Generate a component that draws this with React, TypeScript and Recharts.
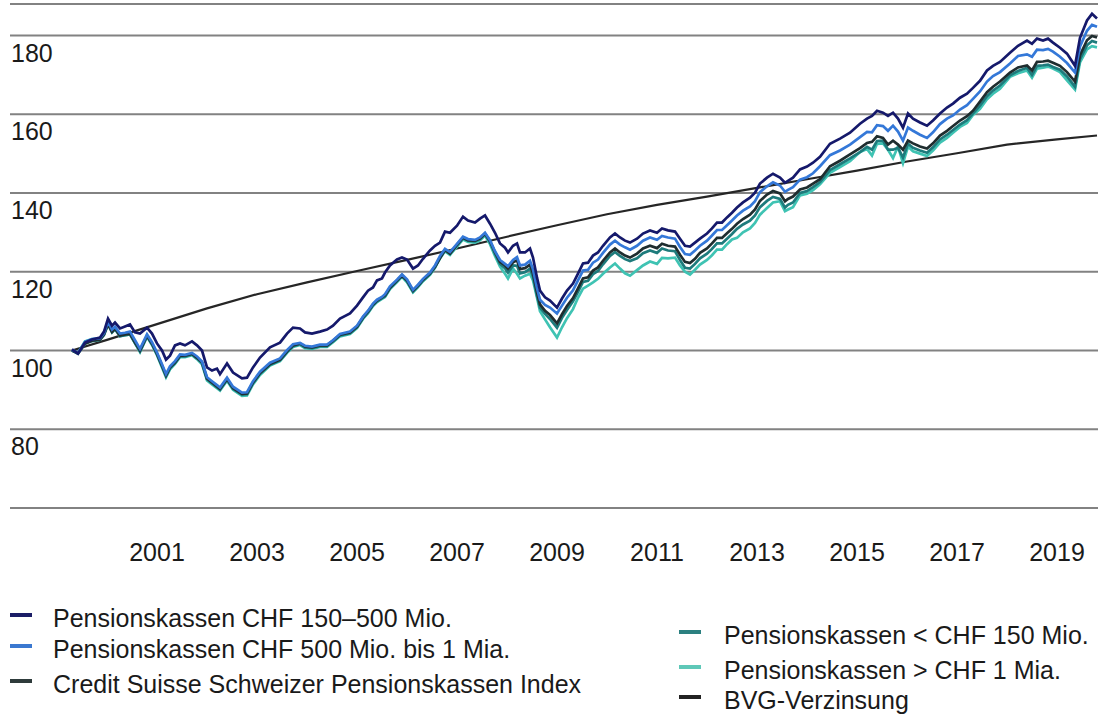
import { LineChart, Line, XAxis, YAxis, CartesianGrid } from "recharts";

// sample dates (decimal years)
const years = [
  1999.3, 1999.42, 1999.56, 1999.7, 1999.86, 1999.94, 2000.02, 2000.1, 2000.16, 2000.26,
  2000.36, 2000.46, 2000.56, 2000.66, 2000.8, 2000.9, 2001.0, 2001.1, 2001.18, 2001.26,
  2001.36, 2001.46, 2001.56, 2001.7, 2001.8, 2001.9, 2002.0, 2002.1, 2002.2, 2002.26,
  2002.4, 2002.52, 2002.7, 2002.8, 2002.92, 2003.06, 2003.26, 2003.46, 2003.6, 2003.72,
  2003.86, 2003.96, 2004.1, 2004.26, 2004.4, 2004.52, 2004.66, 2004.86, 2005.0, 2005.12,
  2005.22, 2005.32, 2005.4, 2005.5, 2005.56, 2005.66, 2005.8, 2005.9, 2006.0, 2006.12,
  2006.22, 2006.32, 2006.46, 2006.56, 2006.66, 2006.76, 2006.86, 2007.0, 2007.12, 2007.22,
  2007.36, 2007.46, 2007.56, 2007.66, 2007.76, 2007.86, 2007.96, 2008.02, 2008.12, 2008.2,
  2008.26, 2008.36, 2008.46, 2008.52, 2008.6, 2008.66, 2008.76, 2008.86, 2009.0, 2009.1,
  2009.2, 2009.32, 2009.42, 2009.52, 2009.62, 2009.72, 2009.82, 2009.92, 2010.06, 2010.16,
  2010.26, 2010.36, 2010.46, 2010.6, 2010.72, 2010.86, 2011.0, 2011.1, 2011.22, 2011.36,
  2011.46, 2011.56, 2011.66, 2011.76, 2011.86, 2012.0, 2012.1, 2012.2, 2012.3, 2012.4,
  2012.5, 2012.6, 2012.72, 2012.86, 2012.96, 2013.06, 2013.2, 2013.32, 2013.46, 2013.56,
  2013.62, 2013.72, 2013.86, 2014.0, 2014.12, 2014.26, 2014.46, 2014.66, 2014.86, 2015.06,
  2015.2, 2015.3, 2015.4, 2015.52, 2015.62, 2015.72, 2015.82, 2015.92, 2016.02, 2016.12,
  2016.26, 2016.4, 2016.52, 2016.66, 2016.8, 2016.92, 2017.06, 2017.2, 2017.32, 2017.46,
  2017.6, 2017.72, 2017.86, 2018.06, 2018.22, 2018.4, 2018.5, 2018.6, 2018.72, 2018.82,
  2018.92, 2019.06, 2019.2, 2019.36, 2019.46, 2019.6, 2019.7, 2019.8,
];

// Pensionskassen CHF 150–500 Mio.
const pk150to500 = [
  100.3, 99.2, 102.0, 102.8, 103.3, 104.8, 108.1, 106.3, 107.1, 105.6,
  106.1, 106.6, 104.6, 104.3, 105.8, 104.3, 101.8, 100.0, 97.7, 98.7,
  101.3, 101.8, 101.3, 102.3, 101.3, 100.0, 95.7, 94.9, 95.4, 94.0,
  96.7, 94.4, 92.9, 93.1, 95.7, 98.2, 100.8, 102.0, 104.3, 105.8,
  105.6, 104.6, 104.3, 104.8, 105.3, 106.3, 108.1, 109.4, 111.4, 113.5,
  115.2, 116.0, 117.8, 118.3, 119.8, 121.6, 123.1, 123.6, 123.1, 120.8,
  121.6, 123.3, 125.4, 126.6, 127.4, 130.2, 129.9, 131.7, 134.0, 133.0,
  132.5, 133.5, 134.3, 132.2, 129.9, 127.2, 126.1, 124.9, 126.6, 127.2,
  124.9, 124.9, 125.9, 123.6, 118.5, 115.2, 113.5, 112.7, 110.9, 113.2,
  115.2, 117.0, 119.5, 122.1, 122.3, 124.1, 124.9, 126.6, 128.7, 129.7,
  128.7, 127.9, 127.4, 128.4, 129.7, 130.5, 129.9, 131.0, 130.5, 130.2,
  128.4, 126.6, 126.4, 127.4, 128.4, 129.7, 131.0, 132.5, 132.5, 133.8,
  135.0, 136.3, 137.6, 138.8, 140.1, 142.4, 143.9, 144.9, 143.9, 142.6,
  143.1, 143.9, 146.0, 146.7, 147.7, 149.2, 152.5, 153.8, 155.3, 157.6,
  158.9, 159.6, 160.9, 160.4, 159.6, 160.4, 158.9, 156.6, 160.2, 158.9,
  157.9, 157.1, 158.4, 160.2, 161.7, 162.7, 164.2, 165.2, 166.7, 168.5,
  171.1, 172.3, 173.3, 175.6, 177.4, 178.7, 177.9, 179.2, 178.7, 179.2,
  178.2, 176.9, 175.4, 172.3, 179.4, 183.8, 185.5, 184.3,
];

// Pensionskassen CHF 500 Mio. bis 1 Mia.
const pk500to1000 = [
  100.2, 99.4, 102.2, 102.9, 103.1, 104.4, 107.3, 105.3, 106.0, 104.3,
  104.5, 104.8, 102.6, 100.4, 104.1, 102.1, 99.5, 96.5, 94.0, 96.0,
  97.3, 99.0, 98.9, 99.4, 98.5, 97.2, 93.2, 92.2, 91.2, 90.6,
  93.1, 90.8, 89.3, 89.4, 92.2, 94.6, 96.9, 98.0, 100.1, 101.6,
  101.9, 101.2, 101.0, 101.5, 101.5, 102.6, 104.2, 104.8, 106.3, 108.6,
  110.1, 111.9, 112.9, 113.6, 114.3, 116.3, 118.0, 119.3, 118.1, 115.4,
  116.7, 118.2, 119.8, 121.6, 124.0, 125.8, 125.0, 127.1, 128.9, 128.3,
  128.1, 128.7, 129.9, 128.0, 125.2, 123.0, 122.0, 121.4, 123.0, 123.7,
  121.6, 121.8, 122.8, 120.6, 115.8, 112.9, 111.6, 110.9, 109.4, 111.4,
  113.4, 115.3, 117.8, 120.3, 120.5, 122.3, 123.1, 124.8, 126.9, 127.9,
  126.9, 126.2, 125.6, 126.6, 127.9, 128.7, 128.1, 129.1, 128.7, 128.4,
  126.3, 124.5, 124.3, 125.4, 126.6, 127.9, 129.2, 130.6, 130.6, 131.8,
  133.0, 134.3, 135.5, 136.6, 137.9, 140.2, 141.7, 142.7, 141.9, 140.3,
  140.8, 141.5, 143.4, 144.0, 145.0, 146.8, 149.6, 150.8, 152.3, 154.2,
  155.5, 155.4, 157.2, 157.0, 155.8, 157.1, 155.6, 153.3, 156.6, 155.8,
  154.8, 154.0, 155.4, 157.5, 158.9, 159.7, 161.2, 162.3, 163.9, 165.8,
  168.3, 169.7, 170.7, 172.9, 174.8, 175.2, 174.6, 176.4, 176.3, 176.6,
  175.9, 174.6, 173.0, 170.6, 177.2, 181.2, 182.7, 182.2,
];

// Credit Suisse Schweizer Pensionskassen Index
const csIndex = [
  100.0, 99.3, 101.8, 102.5, 102.8, 104.1, 106.8, 104.8, 105.6, 103.8,
  104.1, 104.3, 102.1, 100.0, 103.8, 101.8, 99.2, 96.2, 93.7, 95.7,
  97.0, 98.7, 98.7, 99.2, 98.2, 97.0, 92.9, 91.9, 90.9, 90.3,
  92.8, 90.5, 89.0, 89.1, 91.9, 94.3, 96.6, 97.7, 99.8, 101.3,
  101.8, 101.0, 100.8, 101.3, 101.3, 102.5, 104.0, 104.6, 106.1, 108.4,
  109.9, 111.7, 112.7, 113.5, 114.0, 116.0, 117.8, 119.1, 117.8, 115.2,
  116.5, 118.0, 119.6, 121.3, 123.5, 125.6, 124.6, 126.9, 128.7, 128.0,
  127.9, 128.5, 129.7, 127.8, 125.0, 122.5, 121.6, 120.8, 122.4, 122.9,
  120.7, 120.9, 121.8, 119.6, 114.8, 111.7, 110.1, 109.0, 106.9, 109.2,
  111.3, 113.3, 115.8, 118.3, 118.6, 120.3, 121.1, 122.8, 124.9, 125.9,
  124.9, 124.1, 123.6, 124.6, 125.9, 126.6, 126.0, 127.1, 126.6, 126.4,
  124.3, 122.5, 122.2, 123.3, 124.8, 125.9, 127.2, 128.6, 128.6, 129.8,
  130.9, 132.2, 133.4, 134.5, 135.8, 138.0, 139.6, 140.5, 139.9, 137.9,
  138.5, 139.1, 140.9, 141.4, 142.4, 143.5, 146.8, 148.2, 149.8, 151.4,
  152.7, 153.0, 154.4, 154.0, 152.3, 153.3, 152.3, 151.0, 153.3, 152.6,
  151.8, 151.3, 152.6, 154.6, 155.8, 157.0, 158.4, 159.5, 160.9, 163.2,
  165.6, 167.0, 168.3, 170.6, 171.9, 172.4, 171.1, 173.3, 173.4, 173.6,
  173.1, 172.3, 170.7, 168.3, 175.0, 178.8, 179.9, 179.5,
];

// Pensionskassen < CHF 150 Mio.
const pkUnder150 = [
  100.0, 99.2, 101.7, 102.4, 102.7, 103.9, 106.6, 104.6, 105.4, 103.6,
  103.9, 104.1, 101.9, 99.8, 103.6, 101.6, 99.0, 96.0, 93.5, 95.5,
  96.8, 98.5, 98.5, 99.0, 98.0, 96.8, 92.7, 91.7, 90.7, 90.1,
  92.6, 90.3, 88.8, 88.9, 91.7, 94.1, 96.4, 97.5, 99.6, 101.1,
  101.6, 100.8, 100.6, 101.1, 101.1, 102.3, 103.8, 104.4, 105.9, 108.2,
  109.7, 111.5, 112.5, 113.3, 113.8, 115.8, 117.6, 118.9, 117.6, 115.0,
  116.3, 117.8, 119.4, 121.2, 123.6, 125.4, 124.6, 126.7, 128.5, 127.9,
  127.7, 128.3, 129.5, 127.5, 124.6, 122.0, 120.9, 119.8, 121.6, 121.5,
  119.6, 119.9, 120.8, 118.8, 113.9, 110.9, 109.3, 108.0, 105.8, 108.3,
  110.3, 112.5, 114.9, 117.4, 117.7, 119.4, 120.2, 121.9, 124.0, 125.0,
  124.0, 123.2, 122.7, 123.4, 124.7, 125.4, 124.8, 125.9, 125.4, 125.2,
  123.0, 121.0, 120.8, 122.0, 123.4, 124.6, 125.8, 127.2, 127.2, 128.4,
  129.6, 130.9, 132.0, 133.0, 134.3, 136.4, 138.0, 139.0, 138.5, 136.3,
  137.0, 137.6, 140.0, 140.5, 141.5, 142.8, 145.8, 147.3, 148.8, 150.4,
  151.7, 151.0, 153.2, 153.3, 151.0, 151.0, 151.5, 149.0, 152.5, 151.5,
  150.8, 150.2, 151.6, 153.6, 154.8, 156.0, 157.4, 158.5, 160.2, 162.2,
  164.6, 166.0, 167.3, 169.9, 171.0, 171.8, 170.0, 172.3, 172.4, 172.6,
  172.0, 171.3, 169.6, 167.0, 174.0, 177.5, 178.6, 178.2,
];

// Pensionskassen > CHF 1 Mia.
const pkOver1000 = [
  100.1, 99.4, 102.3, 102.9, 102.9, 104.2, 106.9, 104.7, 105.5, 103.7,
  103.9, 104.1, 101.8, 99.6, 103.5, 101.4, 98.8, 95.7, 93.2, 95.2,
  96.6, 98.3, 98.3, 98.8, 97.8, 96.5, 92.4, 91.4, 90.4, 89.8,
  92.3, 90.0, 88.5, 88.6, 91.4, 93.8, 96.2, 97.3, 99.4, 100.9,
  101.4, 100.6, 100.4, 100.9, 100.9, 102.1, 103.6, 104.2, 105.7, 108.0,
  109.5, 111.3, 112.3, 113.1, 113.6, 115.6, 117.4, 118.7, 117.3, 114.8,
  116.1, 117.6, 119.2, 121.0, 123.4, 125.2, 124.3, 126.4, 128.2, 127.6,
  127.4, 128.0, 129.2, 127.0, 124.0, 121.3, 119.5, 118.3, 120.8, 119.5,
  118.3, 119.0, 119.5, 117.8, 113.4, 110.0, 107.9, 105.9, 103.3, 105.9,
  108.2, 110.5, 113.4, 115.7, 116.5, 117.3, 118.2, 119.5, 121.1, 122.1,
  120.8, 119.6, 119.0, 120.4, 121.6, 122.6, 122.0, 123.5, 123.4, 123.6,
  121.6, 120.0, 119.3, 120.5, 121.8, 123.0, 124.2, 125.6, 125.6, 127.0,
  128.2, 128.6, 130.0, 131.0, 132.4, 134.5, 136.2, 137.6, 137.9, 135.4,
  135.8, 136.4, 139.4, 139.8, 140.7, 142.2, 145.1, 146.6, 148.1, 150.4,
  151.2, 149.5, 152.5, 152.6, 151.0, 148.9, 151.8, 147.6, 151.8, 150.6,
  150.0, 149.4, 150.8, 152.8, 154.0, 155.3, 156.8, 157.8, 159.8, 161.4,
  163.8, 165.2, 166.5, 169.5, 170.4, 171.1, 169.3, 171.6, 171.8, 172.1,
  171.6, 170.7, 168.6, 166.3, 173.2, 176.5, 177.3, 177.0,
];

// BVG-Verzinsung (smooth, read at year marks)
const bvgYears = [
  1999.3, 2000, 2001, 2002, 2003, 2004, 2005, 2006, 2007, 2008, 2009,
  2010, 2011, 2012, 2013, 2014, 2015, 2016, 2017, 2018, 2019, 2019.8,
];
const bvgValues = [
  100.0, 102.7, 106.7, 110.7, 114.3, 117.3, 120.2, 123.0, 125.9, 128.9, 131.8,
  134.6, 137.0, 139.1, 141.3, 143.5, 145.7, 148.0, 150.1, 152.3, 153.6, 154.6,
];

const yearTicks = [2001, 2003, 2005, 2007, 2009, 2011, 2013, 2015, 2017, 2019];
const valueTicks = [60, 80, 100, 120, 140, 160, 180];

const FONT = '"Liberation Sans", Arial, Helvetica, sans-serif';
const TEXT = "#1a1a1a";

const series = [
  { key: "over1000", name: "Pensionskassen > CHF 1 Mia.", color: "#3fc3b3" },
  { key: "under150", name: "Pensionskassen < CHF 150 Mio.", color: "#1e7b7c" },
  { key: "cs", name: "Credit Suisse Schweizer Pensionskassen Index", color: "#1f2d2f" },
  { key: "p500", name: "Pensionskassen CHF 500 Mio. bis 1 Mia.", color: "#3478d8" },
  { key: "p150", name: "Pensionskassen CHF 150–500 Mio.", color: "#15196b" },
];

const fundRows = years.map((t, i) => ({
  t,
  p150: pk150to500[i],
  p500: pk500to1000[i],
  cs: csIndex[i],
  under150: pkUnder150[i],
  over1000: pkOver1000[i],
}));
const bvgRows = bvgYears.map((t, i) => ({ t, bvg: bvgValues[i] }));
const rows: any[] = [...fundRows, ...bvgRows].sort((a, b) => a.t - b.t);

const renderYTick = (props: any) => {
  const { y, payload, index } = props;
  if (payload.value === 60) return <g key={`yt-${index}`} />;
  return (
    <text key={`yt-${index}`} x={11} y={y + 26} fontSize={25} fill={TEXT} fontFamily={FONT}>
      {payload.value}
    </text>
  );
};

const renderXTick = (props: any) => {
  const { x, y, payload, index } = props;
  return (
    <text
      key={`xt-${index}`}
      x={x}
      y={y + 51}
      fontSize={25}
      fill={TEXT}
      fontFamily={FONT}
      textAnchor="middle"
    >
      {payload.value}
    </text>
  );
};

const legendLeft = [
  { name: "Pensionskassen CHF 150–500 Mio.", color: "#1b1d66", y: 618 },
  { name: "Pensionskassen CHF 500 Mio. bis 1 Mia.", color: "#3a78d0", y: 649 },
  { name: "Credit Suisse Schweizer Pensionskassen Index", color: "#2e3b3b", y: 684 },
];
const legendRight = [
  { name: "Pensionskassen < CHF 150 Mio.", color: "#2b8080", y: 635 },
  { name: "Pensionskassen > CHF 1 Mia.", color: "#5fc8b8", y: 670 },
  { name: "BVG-Verzinsung", color: "#222222", y: 700 },
];

function LegendItem({ item, markerX, textX }: any) {
  return (
    <>
      <div
        style={{
          position: "absolute",
          left: markerX,
          top: item.y - 5,
          width: 22,
          height: 4,
          background: item.color,
        }}
      />
      <div
        style={{
          position: "absolute",
          left: textX,
          top: item.y - 15,
          lineHeight: "30px",
          fontSize: 25,
          color: TEXT,
          fontFamily: FONT,
          whiteSpace: "nowrap",
        }}
      >
        {item.name}
      </div>
    </>
  );
}

export default function App() {
  return (
    <div
      style={{
        position: "absolute",
        left: 0,
        top: 0,
        width: 1098,
        height: 715,
        background: "#fff",
        overflow: "hidden",
      }}
    >
      <LineChart
        width={1098}
        height={715}
        data={rows}
        margin={{ top: 4, right: 0, bottom: 147, left: 0 }}
      >
        <CartesianGrid vertical={false} stroke="#828282" strokeWidth={2} />
        <XAxis
          dataKey="t"
          type="number"
          domain={[1998.06, 2019.82]}
          ticks={yearTicks}
          interval={0}
          height={60}
          axisLine={false}
          tickLine={false}
          tickSize={0}
          tick={renderXTick}
          allowDataOverflow
        />
        <YAxis
          width={10}
          domain={[60, 188]}
          ticks={valueTicks}
          interval={0}
          axisLine={false}
          tickLine={false}
          tickSize={0}
          tick={renderYTick}
          allowDataOverflow
        />
        <Line
          dataKey="bvg"
          stroke="#262626"
          strokeWidth={2.2}
          dot={false}
          connectNulls
          isAnimationActive={false}
        />
        {series.map((s) => (
          <Line
            key={s.key}
            dataKey={s.key}
            name={s.name}
            stroke={s.color}
            strokeWidth={2.7}
            dot={false}
            connectNulls
            isAnimationActive={false}
          />
        ))}
      </LineChart>
      {legendLeft.map((item) => (
        <LegendItem key={item.name} item={item} markerX={10} textX={53} />
      ))}
      {legendRight.map((item) => (
        <LegendItem key={item.name} item={item} markerX={679} textX={724} />
      ))}
    </div>
  );
}
